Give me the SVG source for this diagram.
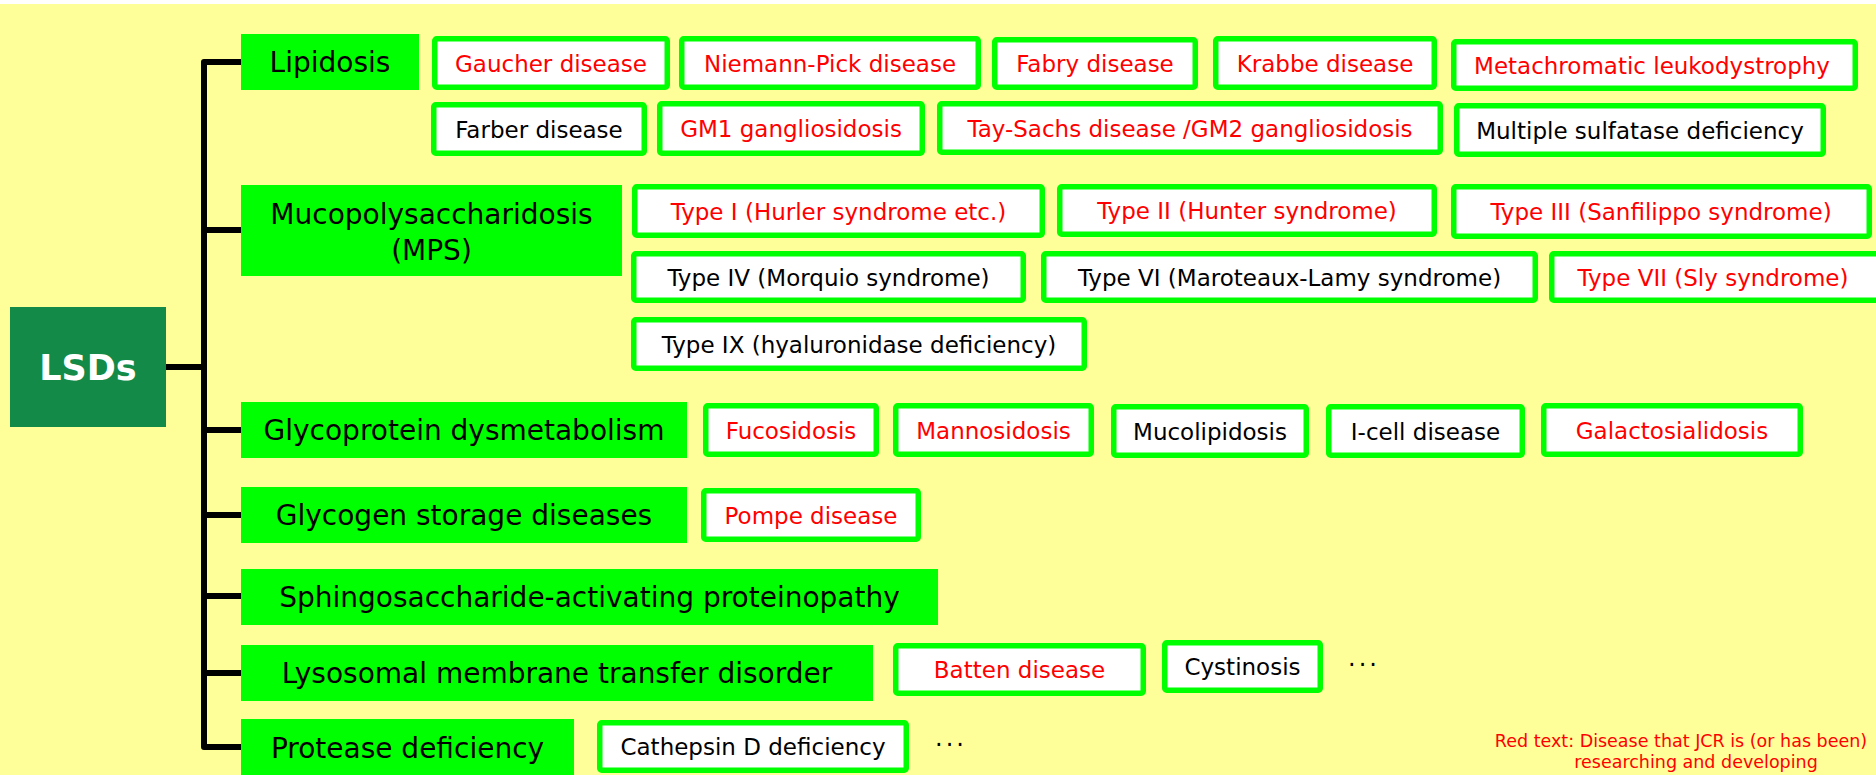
<svg xmlns="http://www.w3.org/2000/svg" width="1876" height="775" viewBox="0 0 1876 775">
<style>
.cat{fill:#00FF00}
.catt{font-family:"DejaVu Sans",sans-serif;font-size:28px;fill:#000;text-anchor:middle}
.d rect{fill:#FFFFFF;stroke:#00FF00;stroke-width:5.5}
.d text{font-family:"DejaVu Sans",sans-serif;font-size:23px;text-anchor:middle}
.r{fill:#FF0000}
.k{fill:#000000}
.con{stroke:#000;stroke-width:6;fill:none;stroke-linejoin:round}
.dots{font-family:"DejaVu Sans",sans-serif;font-size:24px;fill:#000;letter-spacing:3px}
</style>
<rect x="0" y="0" width="1876" height="775" fill="#FFFFFF"/>
<rect x="0" y="4" width="1876" height="771" fill="#FFFF99"/>

<g id="connectors">
<path class="con" d="M241,62 H204 V747 H241"/>
<path class="con" d="M166,367 H204"/>
<path class="con" d="M204,230 H241 M204,430 H241 M204,515 H241 M204,596 H241 M204,673 H241"/>
</g>

<g id="lsds">
<rect x="10" y="307" width="156" height="120" fill="#138A48"/>
<text x="88" y="380" font-family="DejaVu Sans,sans-serif" font-size="35" font-weight="bold" fill="#FFFFFF" text-anchor="middle">LSDs</text>
</g>

<g id="lipidosis"><rect class="cat" x="241" y="34" width="178" height="56"/><text class="catt" x="330" y="72">Lipidosis</text></g>
<g id="mps"><rect class="cat" x="241" y="185" width="381" height="91"/><text class="catt" x="431.5" y="224">Mucopolysaccharidosis</text><text class="catt" x="431.5" y="260">(MPS)</text></g>
<g id="glycoprotein"><rect class="cat" x="241" y="402" width="446" height="56"/><text class="catt" x="464" y="440">Glycoprotein dysmetabolism</text></g>
<g id="glycogen"><rect class="cat" x="241" y="487" width="446" height="56"/><text class="catt" x="464" y="525">Glycogen storage diseases</text></g>
<g id="sphingo"><rect class="cat" x="241" y="569" width="697" height="56"/><text class="catt" x="589.5" y="607">Sphingosaccharide-activating proteinopathy</text></g>
<g id="lysosomal"><rect class="cat" x="241" y="645" width="632" height="56"/><text class="catt" x="557" y="683">Lysosomal membrane transfer disorder</text></g>
<g id="protease"><rect class="cat" x="241" y="719" width="333" height="60"/><text class="catt" x="407.5" y="758">Protease deficiency</text></g>

<g id="gaucher" class="d"><rect x="434.75" y="38.75" width="232.5" height="48.5" rx="2"/><text class="r" x="551" y="71.5">Gaucher disease</text></g>
<g id="niemann" class="d"><rect x="681.75" y="38.75" width="296.5" height="48.5" rx="2"/><text class="r" x="830" y="71.5">Niemann-Pick disease</text></g>
<g id="fabry" class="d"><rect x="994.75" y="39.75" width="200.5" height="47.5" rx="2"/><text class="r" x="1095" y="72">Fabry disease</text></g>
<g id="krabbe" class="d"><rect x="1215.75" y="38.75" width="218.5" height="48.5" rx="2"/><text class="r" x="1325" y="71.5">Krabbe disease</text></g>
<g id="mld" class="d"><rect x="1453.75" y="41.75" width="401.5" height="46.5" rx="2"/><text class="r" x="1652" y="73.5">Metachromatic leukodystrophy</text></g>

<g id="farber" class="d"><rect x="433.75" y="104.75" width="210.5" height="48.5" rx="2"/><text class="k" x="539" y="137.5">Farber disease</text></g>
<g id="gm1" class="d"><rect x="659.75" y="103.75" width="262.5" height="49.5" rx="2"/><text class="r" x="791" y="137">GM1 gangliosidosis</text></g>
<g id="taysachs" class="d"><rect x="939.75" y="103.75" width="500.5" height="48.5" rx="2"/><text class="r" x="1190" y="136.5">Tay-Sachs disease /GM2 gangliosidosis</text></g>
<g id="msd" class="d"><rect x="1456.75" y="105.75" width="366.5" height="48.5" rx="2"/><text class="k" x="1640" y="138.5">Multiple sulfatase deficiency</text></g>

<g id="type1" class="d"><rect x="634.75" y="186.75" width="407.5" height="48.5" rx="2"/><text class="r" x="838.5" y="219.5">Type I (Hurler syndrome etc.)</text></g>
<g id="type2" class="d"><rect x="1059.75" y="186.75" width="374.5" height="47.5" rx="2"/><text class="r" x="1247" y="219">Type II (Hunter syndrome)</text></g>
<g id="type3" class="d"><rect x="1453.75" y="186.75" width="415.5" height="49.5" rx="2"/><text class="r" x="1661" y="220">Type III (Sanfilippo syndrome)</text></g>

<g id="type4" class="d"><rect x="633.75" y="253.75" width="389.5" height="46.5" rx="2"/><text class="k" x="828.5" y="285.5">Type IV (Morquio syndrome)</text></g>
<g id="type6" class="d"><rect x="1043.75" y="253.75" width="491.5" height="46.5" rx="2"/><text class="k" x="1289.5" y="285.5">Type VI (Maroteaux-Lamy syndrome)</text></g>
<g id="type7" class="d"><rect x="1551.75" y="253.75" width="340" height="46.5" rx="2"/><text class="r" x="1713" y="285.5">Type VII (Sly syndrome)</text></g>

<g id="type9" class="d"><rect x="633.75" y="319.75" width="450.5" height="48.5" rx="2"/><text class="k" x="859" y="352.5">Type IX (hyaluronidase deficiency)</text></g>

<g id="fucosidosis" class="d"><rect x="705.75" y="405.75" width="170.5" height="48.5" rx="2"/><text class="r" x="791" y="438.5">Fucosidosis</text></g>
<g id="mannosidosis" class="d"><rect x="895.75" y="405.75" width="195.5" height="48.5" rx="2"/><text class="r" x="993.5" y="438.5">Mannosidosis</text></g>
<g id="mucolipidosis" class="d"><rect x="1113.75" y="406.75" width="192.5" height="48.5" rx="2"/><text class="k" x="1210" y="439.5">Mucolipidosis</text></g>
<g id="icell" class="d"><rect x="1328.75" y="406.75" width="193.5" height="48.5" rx="2"/><text class="k" x="1425.5" y="439.5">I-cell disease</text></g>
<g id="galacto" class="d"><rect x="1543.75" y="405.75" width="256.5" height="48.5" rx="2"/><text class="r" x="1672" y="438.5">Galactosialidosis</text></g>

<g id="pompe" class="d"><rect x="703.75" y="490.75" width="214.5" height="48.5" rx="2"/><text class="r" x="811" y="523.5">Pompe disease</text></g>

<g id="batten" class="d"><rect x="895.75" y="645.75" width="247.5" height="47.5" rx="2"/><text class="r" x="1019.5" y="678">Batten disease</text></g>
<g id="cystinosis" class="d"><rect x="1164.75" y="642.75" width="155.5" height="47.5" rx="2"/><text class="k" x="1242.5" y="675">Cystinosis</text></g>
<text class="dots" x="1348" y="673">···</text>

<g id="cathepsin" class="d"><rect x="599.75" y="722.75" width="306.5" height="47.5" rx="2"/><text class="k" x="753" y="755">Cathepsin D deficiency</text></g>
<text class="dots" x="935" y="753">···</text>

<g id="note" font-family="DejaVu Sans,sans-serif" font-size="17.5" fill="#FF0000" text-anchor="middle">
<text x="1681" y="747">Red text: Disease that JCR is (or has been)</text>
<text x="1696" y="768">researching and developing</text>
</g>
</svg>
